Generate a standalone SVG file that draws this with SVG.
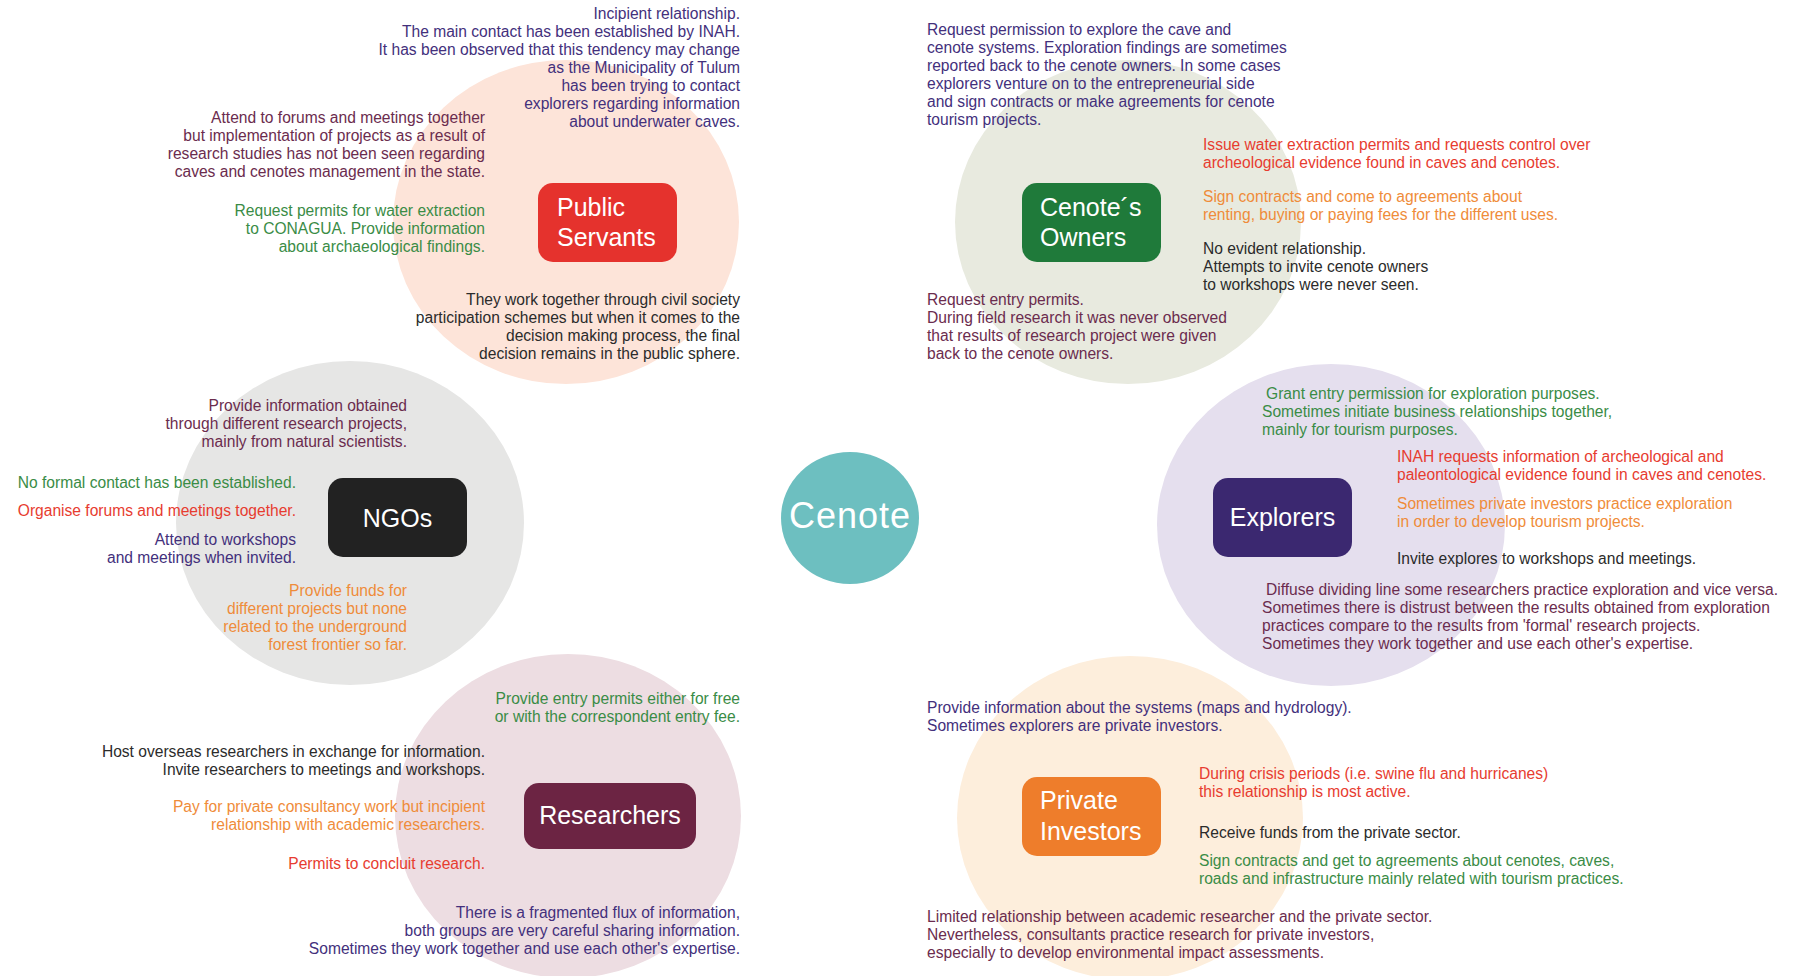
<svg xmlns="http://www.w3.org/2000/svg" width="1798" height="976" viewBox="0 0 1798 976">
<style>
text{font-family:"Liberation Sans",Arial,sans-serif}
.t{font-size:15.6px}
.e{text-anchor:end}
.pu{fill:#43307c}.ma{fill:#6b2c4e}.gr{fill:#3a8c46}.re{fill:#e73c30}.or{fill:#ef8c3a}.bk{fill:#2b2b2b}
.lbl{font-size:25px;fill:#ffffff}
.c{text-anchor:middle}
</style>
<rect width="1798" height="976" fill="#ffffff"/>
<g id="connectors"/>
<g id="node-public-servants">
<ellipse cx="566" cy="222" rx="173" ry="162" fill="#fde4d9"/>
<rect x="538" y="183" width="139" height="79" rx="15" fill="#e5322d"/>
<text class="lbl" x="557" y="216">Public</text>
<text class="lbl" x="557" y="246">Servants</text>
<text class="t e pu"><tspan x="740" y="19">Incipient relationship.</tspan><tspan x="740" y="37">The main contact has been established by INAH.</tspan><tspan x="740" y="55">It has been observed that this tendency may change</tspan><tspan x="740" y="73">as the Municipality of Tulum</tspan><tspan x="740" y="91">has been trying to contact</tspan><tspan x="740" y="109">explorers regarding information</tspan><tspan x="740" y="127">about underwater caves.</tspan></text>
<text class="t e ma"><tspan x="485" y="123">Attend to forums and meetings together</tspan><tspan x="485" y="141">but implementation of projects as a result of</tspan><tspan x="485" y="159">research studies has not been seen regarding</tspan><tspan x="485" y="177">caves and cenotes management in the state.</tspan></text>
<text class="t e gr"><tspan x="485" y="216">Request permits for water extraction</tspan><tspan x="485" y="234">to CONAGUA. Provide information</tspan><tspan x="485" y="252">about archaeological findings.</tspan></text>
<text class="t e bk"><tspan x="740" y="305">They work together through civil society</tspan><tspan x="740" y="323">participation schemes but when it comes to the</tspan><tspan x="740" y="341">decision making process, the final</tspan><tspan x="740" y="359">decision remains in the public sphere.</tspan></text>
</g>
<g id="node-ngos">
<ellipse cx="350" cy="523" rx="174" ry="162" fill="#e6e6e5"/>
<rect x="328" y="478" width="139" height="79" rx="15" fill="#222222"/>
<text class="lbl c" x="397.5" y="527">NGOs</text>
<text class="t e ma"><tspan x="407" y="411">Provide information obtained</tspan><tspan x="407" y="429">through different research projects,</tspan><tspan x="407" y="447">mainly from natural scientists.</tspan></text>
<text class="t e gr" x="296" y="488">No formal contact has been established.</text>
<text class="t e re" x="296" y="516">Organise forums and meetings together.</text>
<text class="t e pu"><tspan x="296" y="545">Attend to workshops</tspan><tspan x="296" y="563">and meetings when invited.</tspan></text>
<text class="t e or"><tspan x="407" y="596">Provide funds for</tspan><tspan x="407" y="614">different projects but none</tspan><tspan x="407" y="632">related to the underground</tspan><tspan x="407" y="650">forest frontier so far.</tspan></text>
</g>
<g id="node-researchers">
<ellipse cx="568" cy="816" rx="173" ry="162" fill="#eddde2"/>
<rect x="524" y="783" width="172" height="66" rx="15" fill="#6c2443"/>
<text class="lbl c" x="610" y="824">Researchers</text>
<text class="t e gr"><tspan x="740" y="704">Provide entry permits either for free</tspan><tspan x="740" y="722">or with the correspondent entry fee.</tspan></text>
<text class="t e bk"><tspan x="485" y="757">Host overseas researchers in exchange for information.</tspan><tspan x="485" y="775">Invite researchers to meetings and workshops.</tspan></text>
<text class="t e or"><tspan x="485" y="812">Pay for private consultancy work but incipient</tspan><tspan x="485" y="830">relationship with academic researchers.</tspan></text>
<text class="t e re" x="485" y="869">Permits to concluit research.</text>
<text class="t e pu"><tspan x="740" y="918">There is a fragmented flux of information,</tspan><tspan x="740" y="936">both groups are very careful sharing information.</tspan><tspan x="740" y="954">Sometimes they work together and use each other's expertise.</tspan></text>
</g>
<g id="node-cenote-owners">
<ellipse cx="1128" cy="222" rx="173" ry="162" fill="#e8eadf"/>
<rect x="1022" y="183" width="139" height="79" rx="15" fill="#1f7a3a"/>
<text class="lbl" x="1040" y="216">Cenote´s</text>
<text class="lbl" x="1040" y="246">Owners</text>
<text class="t pu"><tspan x="927" y="35">Request permission to explore the cave and</tspan><tspan x="927" y="53">cenote systems. Exploration findings are sometimes</tspan><tspan x="927" y="71">reported back to the cenote owners. In some cases</tspan><tspan x="927" y="89">explorers venture on to the entrepreneurial side</tspan><tspan x="927" y="107">and sign contracts or make agreements for cenote</tspan><tspan x="927" y="125">tourism projects.</tspan></text>
<text class="t re"><tspan x="1203" y="150">Issue water extraction permits and requests control over</tspan><tspan x="1203" y="168">archeological evidence found in caves and cenotes.</tspan></text>
<text class="t or"><tspan x="1203" y="202">Sign contracts and come to agreements about</tspan><tspan x="1203" y="220">renting, buying or paying fees for the different uses.</tspan></text>
<text class="t bk"><tspan x="1203" y="254">No evident relationship.</tspan><tspan x="1203" y="272">Attempts to invite cenote owners</tspan><tspan x="1203" y="290">to workshops were never seen.</tspan></text>
<text class="t ma"><tspan x="927" y="305">Request entry permits.</tspan><tspan x="927" y="323">During field research it was never observed</tspan><tspan x="927" y="341">that results of research project were given</tspan><tspan x="927" y="359">back to the cenote owners.</tspan></text>
</g>
<g id="node-explorers">
<ellipse cx="1331" cy="525" rx="174" ry="161" fill="#e5dfee"/>
<rect x="1213" y="478" width="139" height="79" rx="15" fill="#3b2870"/>
<text class="lbl c" x="1282.5" y="526">Explorers</text>
<text class="t gr"><tspan x="1266" y="399">Grant entry permission for exploration purposes.</tspan><tspan x="1262" y="417">Sometimes initiate business relationships together,</tspan><tspan x="1262" y="435">mainly for tourism purposes.</tspan></text>
<text class="t re"><tspan x="1397" y="462">INAH requests information of archeological and</tspan><tspan x="1397" y="480">paleontological evidence found in caves and cenotes.</tspan></text>
<text class="t or"><tspan x="1397" y="509">Sometimes private investors practice exploration</tspan><tspan x="1397" y="527">in order to develop tourism projects.</tspan></text>
<text class="t bk" x="1397" y="564">Invite explores to workshops and meetings.</text>
<text class="t ma"><tspan x="1266" y="595">Diffuse dividing line some researchers practice exploration and vice versa.</tspan><tspan x="1262" y="613">Sometimes there is distrust between the results obtained from exploration</tspan><tspan x="1262" y="631">practices compare to the results from 'formal' research projects.</tspan><tspan x="1262" y="649">Sometimes they work together and use each other's expertise.</tspan></text>
</g>
<g id="node-private-investors">
<ellipse cx="1130" cy="818" rx="173" ry="162" fill="#fdeedc"/>
<rect x="1022" y="777" width="139" height="79" rx="15" fill="#ee7d2b"/>
<text class="lbl" x="1040" y="809">Private</text>
<text class="lbl" x="1040" y="840">Investors</text>
<text class="t pu"><tspan x="927" y="713">Provide information about the systems (maps and hydrology).</tspan><tspan x="927" y="731">Sometimes explorers are private investors.</tspan></text>
<text class="t re"><tspan x="1199" y="779">During crisis periods (i.e. swine flu and hurricanes)</tspan><tspan x="1199" y="797">this relationship is most active.</tspan></text>
<text class="t bk" x="1199" y="838">Receive funds from the private sector.</text>
<text class="t gr"><tspan x="1199" y="866">Sign contracts and get to agreements about cenotes, caves,</tspan><tspan x="1199" y="884">roads and infrastructure mainly related with tourism practices.</tspan></text>
<text class="t ma"><tspan x="927" y="922">Limited relationship between academic researcher and the private sector.</tspan><tspan x="927" y="940">Nevertheless, consultants practice research for private investors,</tspan><tspan x="927" y="958">especially to develop environmental impact assessments.</tspan></text>
</g>
<g id="node-cenote">
<ellipse cx="850" cy="518" rx="69" ry="66" fill="#6dbfc0"/>
<text x="850" y="528" text-anchor="middle" font-size="36" letter-spacing="1" fill="#ffffff">Cenote</text>
</g>
</svg>
